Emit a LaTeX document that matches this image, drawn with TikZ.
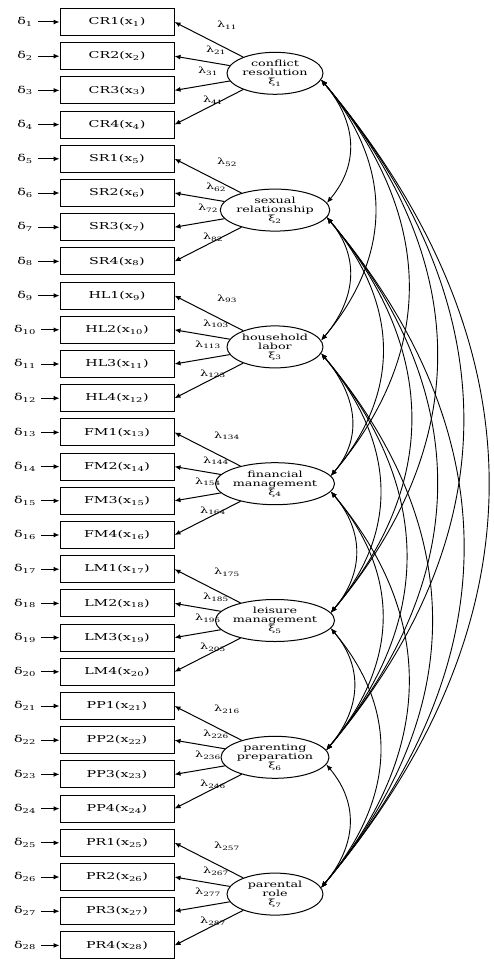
\documentclass[tikz,border=0pt]{standalone}
\usepackage{fontspec}
\setmainfont{DejaVu Serif}[FakeStretch=1.5]
\usetikzlibrary{arrows.meta,positioning,shapes.geometric}

\begin{document}
\begin{tikzpicture}[x=1pt, y=1pt,
                >={Latex[length=6pt,width=5pt]},
                item/.style={draw, line width=1pt, minimum width=114pt,
                             minimum height=27pt, inner sep=0pt,
                             font=\fontsize{9.5}{10}\selectfont},
                latent/.style={ellipse, draw, line width=1pt, minimum width=96pt,
                               minimum height=42pt, inner sep=0pt, align=center,
                               font=\fontsize{8.5}{9}\selectfont},
                err/.style={inner sep=1pt, font=\fontsize{9.5}{10}\selectfont},
                lam/.style={inner sep=0pt, font=\fontsize{8.5}{9}\selectfont},
                link/.style={->, line width=1pt},
                cov/.style={<->, line width=0.9pt}
            ]
            \useasboundingbox (0,0) rectangle (494,-960);

            % indicators with their errors
            \foreach \i/\lab in {1/CR1, 2/CR2, 3/CR3, 4/CR4, 5/SR1, 6/SR2, 7/SR3, 8/SR4,
                                 9/HL1, 10/HL2, 11/HL3, 12/HL4, 13/FM1, 14/FM2, 15/FM3, 16/FM4,
                                 17/LM1, 18/LM2, 19/LM3, 20/LM4, 21/PP1, 22/PP2, 23/PP3, 24/PP4,
                                 25/PR1, 26/PR2, 27/PR3, 28/PR4} {
                \node[item] (b\i) at (117,{-22-34.2*(\i-1)}) {\lab(x\textsubscript{\i})};
                \node[err] (d\i) at (25,{-22-34.2*(\i-1)}) {δ\textsubscript{\i}};
                \draw[link, shorten <=4pt] (d\i) -- (b\i);
            }

            % latent factors
            \node[latent] (f1) at (275,-73.3)  {conflict\\resolution\\ξ\textsubscript{1}};
            \node[latent] (f2) at (275,-210.1) {sexual\\relationship\\ξ\textsubscript{2}};
            \node[latent] (f3) at (275,-346.9) {household\\labor\\ξ\textsubscript{3}};
            \node[latent] (f4) at (275,-483.7) {financial\\management\\ξ\textsubscript{4}};
            \node[latent] (f5) at (275,-620.5) {leisure\\management\\ξ\textsubscript{5}};
            \node[latent] (f6) at (275,-757.3) {parenting\\preparation\\ξ\textsubscript{6}};
            \node[latent] (f7) at (275,-894.1) {parental\\role\\ξ\textsubscript{7}};

            % loadings
            \foreach \k in {1,...,7} {
                \foreach \r/\dx/\dy in {1/-48/48, 2/-59/23, 3/-67/2, 4/-62/-27} {
                    \pgfmathtruncatemacro{\i}{4*(\k-1)+\r}
                    \draw[link] (f\k) -- (b\i.east);
                    \node[lam] (l\i) at ([shift={(\dx,\dy)}]f\k.center) {λ\textsubscript{\i\k}};
                }
            }

            % factor covariances
            \foreach \a in {1,...,6} {
                \pgfmathtruncatemacro{\na}{\a+1}
                \foreach \b in {\na,...,7} {
                    \draw[cov] (f\a.-8) to[out=-50, in=50, looseness=1.1] (f\b.8);
                }
            }
\end{tikzpicture}
\end{document}
